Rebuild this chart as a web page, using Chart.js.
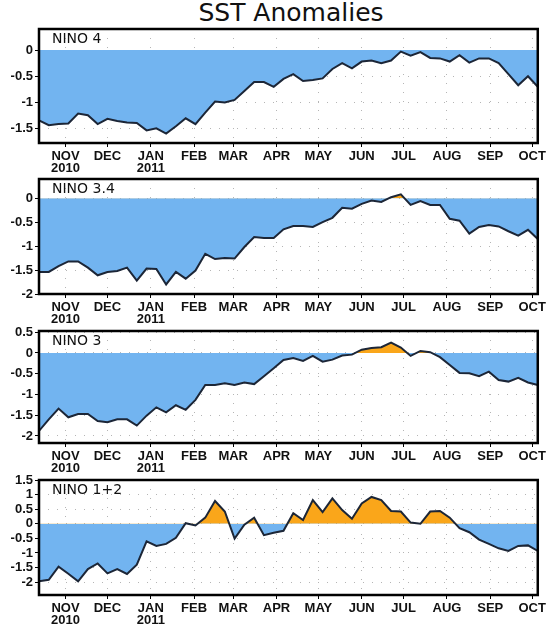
<!DOCTYPE html>
<html>
<head>
<meta charset="utf-8">
<script src="https://cdn.jsdelivr.net/npm/chart.js@4/dist/chart.umd.min.js"></script>
<style>
  html, body { margin: 0; padding: 0; background: #fff; width: 550px; height: 626px; overflow: hidden; }
  #title { position: absolute; left: 0; width: 582px; top: -2px; text-align: center;
           font-family: "DejaVu Sans", sans-serif; font-size: 25px; color: #111; }
  .panel { position: absolute; left: 0; width: 550px; }
</style>
</head>
<body>
<div id="title">SST Anomalies</div>
<div class="panel" id="p0"><canvas id="c0"></canvas></div>
<div class="panel" id="p1"><canvas id="c1"></canvas></div>
<div class="panel" id="p2"><canvas id="c2"></canvas></div>
<div class="panel" id="p3"><canvas id="c3"></canvas></div>
<script>
// ---- data ----
const weekDates = [
  '2010-10-13','2010-10-20','2010-10-27','2010-11-03','2010-11-10','2010-11-17','2010-11-24',
  '2010-12-01','2010-12-08','2010-12-15','2010-12-22','2010-12-29','2011-01-05','2011-01-12',
  '2011-01-19','2011-01-26','2011-02-02','2011-02-09','2011-02-16','2011-02-23','2011-03-02',
  '2011-03-09','2011-03-16','2011-03-23','2011-03-30','2011-04-06','2011-04-13','2011-04-20',
  '2011-04-27','2011-05-04','2011-05-11','2011-05-18','2011-05-25','2011-06-01','2011-06-08',
  '2011-06-15','2011-06-22','2011-06-29','2011-07-06','2011-07-13','2011-07-20','2011-07-27',
  '2011-08-03','2011-08-10','2011-08-17','2011-08-24','2011-08-31','2011-09-07','2011-09-14',
  '2011-09-21','2011-09-28','2011-10-05'
];
const nino4 = [-1.34,-1.43,-1.41,-1.40,-1.21,-1.24,-1.41,-1.31,-1.35,-1.38,
  -1.39,-1.53,-1.49,-1.59,-1.45,-1.30,-1.41,-1.19,-0.98,-1.00,
  -0.95,-0.78,-0.61,-0.61,-0.70,-0.55,-0.46,-0.59,-0.57,-0.54,
  -0.36,-0.25,-0.35,-0.22,-0.20,-0.25,-0.20,-0.03,-0.11,-0.04,
  -0.15,-0.16,-0.22,-0.10,-0.24,-0.16,-0.16,-0.25,-0.46,-0.67,
  -0.50,-0.70];
const nino34 = [-1.54,-1.54,-1.42,-1.32,-1.32,-1.45,-1.61,-1.54,-1.52,-1.45,
  -1.72,-1.47,-1.48,-1.80,-1.54,-1.68,-1.51,-1.16,-1.27,-1.25,
  -1.26,-1.02,-0.81,-0.83,-0.83,-0.65,-0.58,-0.58,-0.60,-0.50,
  -0.41,-0.20,-0.22,-0.12,-0.05,-0.08,0.02,0.08,-0.14,-0.06,
  -0.14,-0.14,-0.43,-0.47,-0.74,-0.60,-0.56,-0.59,-0.69,-0.78,
  -0.66,-0.85];
const nino3 = [-1.88,-1.60,-1.34,-1.55,-1.47,-1.47,-1.64,-1.67,-1.60,-1.60,
  -1.75,-1.51,-1.31,-1.43,-1.26,-1.37,-1.13,-0.77,-0.77,-0.73,
  -0.77,-0.71,-0.75,-0.56,-0.37,-0.17,-0.12,-0.19,-0.07,-0.21,
  -0.16,-0.06,-0.04,0.08,0.12,0.14,0.25,0.13,-0.07,0.05,
  0.02,-0.10,-0.29,-0.48,-0.49,-0.56,-0.45,-0.65,-0.69,-0.60,
  -0.71,-0.77];
const nino12 = [-1.97,-1.92,-1.47,-1.71,-1.97,-1.55,-1.36,-1.70,-1.55,-1.72,
  -1.40,-0.60,-0.76,-0.69,-0.48,0.02,-0.06,0.21,0.78,0.42,
  -0.51,-0.03,0.21,-0.39,-0.31,-0.24,0.36,0.13,0.81,0.40,
  0.87,0.47,0.17,0.70,0.92,0.81,0.44,0.42,0.04,0.00,
  0.42,0.44,0.21,-0.15,-0.29,-0.54,-0.69,-0.84,-0.93,-0.76,
  -0.74,-0.93];
const monthTicks = ['2010-11-01','2010-12-01','2011-01-01','2011-02-01','2011-03-01','2011-04-01',
  '2011-05-01','2011-06-01','2011-07-01','2011-08-01','2011-09-01','2011-10-01'];
const monthLabels = [['NOV','2010'],'DEC',['JAN','2011'],'FEB','MAR','APR','MAY','JUN','JUL','AUG','SEP','OCT'];
const panelNames = ['NINO 4','NINO 3.4','NINO 3','NINO 1+2'];
const yTicks4  = [0,-0.5,-1,-1.5];
const yTicks34 = [0,-0.5,-1,-1.5,-2];
const yTicks3  = [0.5,0,-0.5,-1,-1.5,-2];
const yTicks12 = [1.5,1,0.5,0,-0.5,-1,-1.5,-2];

// ---- layout (pixel geometry of each panel box) ----
const panels = [
  { name: panelNames[0], values: nino4,  yTicks: yTicks4,  min: -1.77, max: 0.40, top: 29,  bottom: 143 },
  { name: panelNames[1], values: nino34, yTicks: yTicks34, min: -2.00, max: 0.40, top: 179, bottom: 294 },
  { name: panelNames[2], values: nino3,  yTicks: yTicks3,  min: -2.17, max: 0.53, top: 331, bottom: 443 },
  { name: panelNames[3], values: nino12, yTicks: yTicks12, min: -2.44, max: 1.50, top: 480, bottom: 595 }
];

const DAY = 86400000;
function dayNum(s) { const p = s.split('-').map(Number); return Date.UTC(p[0], p[1]-1, p[2]) / DAY; }
const xDays = weekDates.map(dayNum);
const tickDays = monthTicks.map(dayNum);

const PAD_TOP = 10, XAXIS_H = 32;
const tickFont = { family: '"Liberation Sans Narrow", "Liberation Sans", Arial, sans-serif', size: 13, weight: 'bold', lineHeight: 0.9 };
const gridColor = 'rgba(150,150,150,0.7)';

const framePlugin = {
  id: 'frame',
  afterDraw(chart, args, opts) {
    const a = chart.chartArea, ctx = chart.ctx;
    ctx.save();
    ctx.strokeStyle = '#000';
    ctx.lineWidth = 2.5;
    ctx.strokeRect(a.left, a.top, a.right - a.left, a.bottom - a.top);
    ctx.fillStyle = '#111';
    ctx.font = '14px "DejaVu Sans", sans-serif';
    ctx.textBaseline = 'alphabetic';
    ctx.fillText(opts.label, a.left + 13, a.top + 14);
    ctx.restore();
  }
};

panels.forEach((p, i) => {
  const h = p.bottom - p.top;
  const div = document.getElementById('p' + i);
  div.style.top = (p.top - PAD_TOP) + 'px';
  div.style.height = (h + PAD_TOP + XAXIS_H) + 'px';
  const pts = p.values.map((v, k) => ({ x: xDays[k], y: v }));
  new Chart(document.getElementById('c' + i), {
    type: 'line',
    data: {
      datasets: [{
        data: pts,
        borderColor: '#1c2637',
        borderWidth: 2,
        pointRadius: 0,
        tension: 0,
        fill: { target: { value: 0 }, above: 'rgb(250,166,26)', below: 'rgb(114,180,240)' }
      }]
    },
    options: {
      responsive: true,
      maintainAspectRatio: false,
      animation: false,
      layout: { padding: { top: PAD_TOP, right: 9, left: 0, bottom: 0 } },
      plugins: { legend: { display: false }, tooltip: { enabled: false }, frame: { label: p.name } },
      scales: {
        x: {
          type: 'linear',
          min: xDays[0],
          max: xDays[xDays.length - 1],
          afterBuildTicks: s => { s.ticks = tickDays.map(v => ({ value: v })); },
          afterFit: s => { s.height = XAXIS_H; },
          ticks: {
            autoSkip: false, maxRotation: 0, padding: 4, color: '#111', font: tickFont,
            callback: (v) => { const k = tickDays.indexOf(v); return k >= 0 ? monthLabels[k] : ''; }
          },
          grid: { color: gridColor, lineWidth: 1,
                  drawTicks: true, tickLength: 4, tickColor: '#000', tickBorderDash: [] },
          border: { display: false, dash: [1, 8] }
        },
        y: {
          min: p.min,
          max: p.max,
          afterBuildTicks: s => { s.ticks = p.yTicks.map(v => ({ value: v })); },
          afterFit: s => { s.width = 39; },
          ticks: { autoSkip: false, padding: 2, color: '#111', font: tickFont,
                   callback: v => String(v) },
          grid: { color: gridColor, lineWidth: 1,
                  drawTicks: true, tickLength: 4, tickColor: '#000', tickBorderDash: [] },
          border: { display: false, dash: [1, 8] }
        }
      }
    },
    plugins: [framePlugin]
  });
});
</script>
</body>
</html>
